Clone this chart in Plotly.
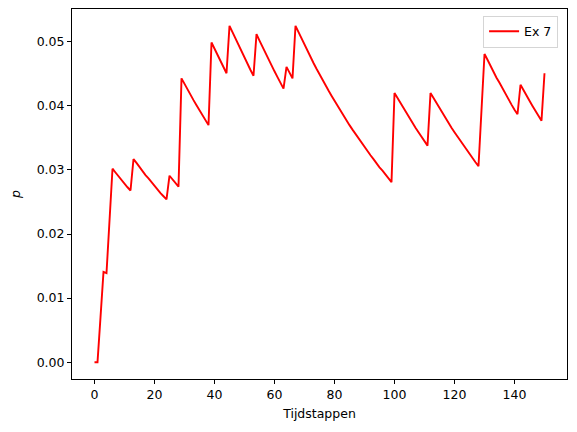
import plotly.graph_objects as go

# time steps 0..150 and the value at each step
t = list(range(151))
p = [
    0.0000, 0.0000, 0.0070, 0.0141, 0.0139, 0.0222, 0.0302, 0.0296, 0.0290, 0.0284,
    0.0279, 0.0273, 0.0268, 0.0317, 0.0311, 0.0304, 0.0298, 0.0292, 0.0287, 0.0281,
    0.0275, 0.0270, 0.0264, 0.0259, 0.0254, 0.0291, 0.0285, 0.0279, 0.0274, 0.0443,
    0.0434, 0.0426, 0.0417, 0.0409, 0.0401, 0.0393, 0.0385, 0.0377, 0.0370, 0.0499,
    0.0489, 0.0479, 0.0470, 0.0460, 0.0451, 0.0525, 0.0515, 0.0504, 0.0494, 0.0484,
    0.0475, 0.0465, 0.0456, 0.0447, 0.0512, 0.0502, 0.0492, 0.0482, 0.0472, 0.0463,
    0.0454, 0.0445, 0.0436, 0.0427, 0.0461, 0.0452, 0.0443, 0.0525, 0.0515, 0.0505,
    0.0495, 0.0486, 0.0476, 0.0467, 0.0458, 0.0449, 0.0441, 0.0432, 0.0424, 0.0416,
    0.0408, 0.0400, 0.0392, 0.0385, 0.0377, 0.0370, 0.0363, 0.0356, 0.0349, 0.0342,
    0.0336, 0.0329, 0.0323, 0.0317, 0.0310, 0.0304, 0.0299, 0.0293, 0.0287, 0.0281,
    0.0420, 0.0412, 0.0404, 0.0396, 0.0388, 0.0381, 0.0373, 0.0366, 0.0359, 0.0352,
    0.0345, 0.0338, 0.0420, 0.0412, 0.0404, 0.0396, 0.0388, 0.0381, 0.0373, 0.0366,
    0.0359, 0.0352, 0.0345, 0.0338, 0.0331, 0.0325, 0.0319, 0.0312, 0.0306, 0.0393,
    0.0481, 0.0472, 0.0462, 0.0453, 0.0444, 0.0436, 0.0427, 0.0419, 0.0410, 0.0402,
    0.0394, 0.0387, 0.0433, 0.0424, 0.0416, 0.0408, 0.0400, 0.0392, 0.0384, 0.0377,
    0.0451,
]
x_ticks = [0, 20, 40, 60, 80, 100, 120, 140]
y_ticks = [0.00, 0.01, 0.02, 0.03, 0.04, 0.05]

fig = go.Figure()
fig.add_trace(go.Scatter(x=t, y=p, mode="lines", name="Ex 7",
                         line=dict(color="#ff0000", width=1.9)))

axis_style = dict(showline=True, mirror=True, linecolor="black", linewidth=1,
                  ticks="outside", ticklen=4, tickcolor="black",
                  showgrid=False, zeroline=False,
                  tickfont=dict(size=12.5, color="black"))

fig.update_xaxes(range=[-7.5, 157.5], tickvals=x_ticks,
                 title=dict(text="Tijdstappen", standoff=8,
                            font=dict(size=12.5, color="black")),
                 **axis_style)
fig.update_yaxes(range=[-0.002625, 0.055125], tickvals=y_ticks, tickformat=".2f",
                 title=dict(text="<i>p</i>", standoff=17,
                            font=dict(size=12.5, color="black")),
                 **axis_style)

# the page body adds an 8px margin, so the figure is drawn 8px smaller
fig.update_layout(
    width=569, height=424,
    margin=dict(l=64, r=10, t=1, b=53, autoexpand=False),
    paper_bgcolor="white", plot_bgcolor="white",
    font=dict(family="DejaVu Sans", size=12.5, color="black"),
    showlegend=True,
    legend=dict(x=0.982, y=0.982, xanchor="right", yanchor="top",
                bgcolor="rgba(255,255,255,0.8)", bordercolor="#d5d5d5",
                borderwidth=1, font=dict(size=12.5)),
)

fig.write_html("out.html")
